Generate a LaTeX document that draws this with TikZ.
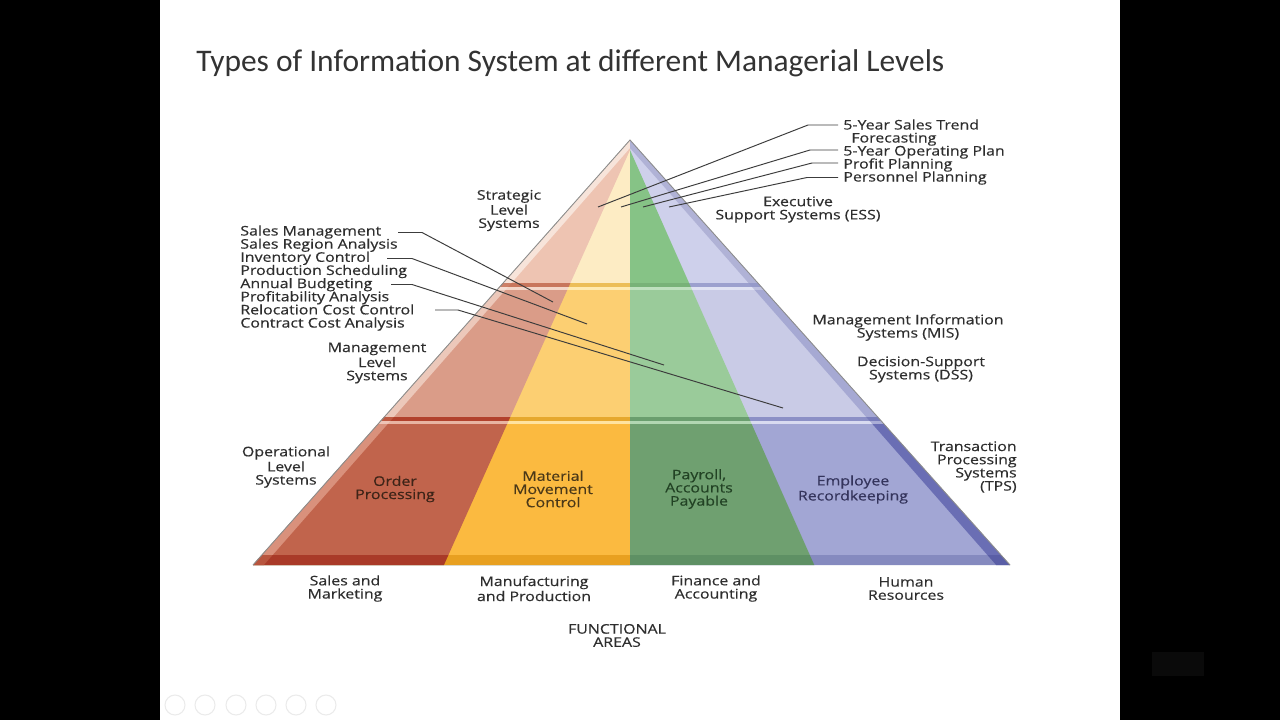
\documentclass[tikz,border=0pt]{standalone}
\usepackage{fontspec}
\newfontfamily\labfont[FakeStretch=1.2,FakeBold=0.4]{Open Sans}
\newfontfamily\titlefont{Carlito}
\definecolor{txt}{HTML}{2E2E2E}
\definecolor{lead}{HTML}{3C3C3C}
\newcommand\tierfill[9]{%
  \begin{scope}
    \clip (150,#1) rectangle (1150,#2);
    \fill[#6] (150,100) rectangle (1150,640);
    \fill[#5] (630,100)--(630,150)--(832,605)--(150,605)--(150,100)--cycle;
    \fill[#4] (150,100) rectangle (630,640);
    \fill[#3] (630,100)--(630,150)--(426,605)--(150,605)--(150,100)--cycle;
    \fill[#7] (630,148)--(198,640)--(150,640)--(150,100)--(630,100)--cycle;
    \fill[#8] (630,148)--(1062,640)--(1150,640)--(1150,100)--(630,100)--cycle;
  \end{scope}}
\begin{document}
\begin{tikzpicture}[x=0.02cm,y=-0.02cm,
  lab/.style={font=\labfont\fontsize{7.55}{7.5}\selectfont, text=txt, inner sep=0pt, align=center},
  inlab/.style={lab},
  leadline/.style={draw=lead, line width=0.55pt}]
\useasboundingbox (0,0) rectangle (1280,720);
\fill[black] (0,0) rectangle (1280,720);
\fill[white] (160,0) rectangle (1120,720);
% slide show controls
\foreach \cx in {175,205,236,266,296,326}
  \draw[black!8, line width=0.6pt] (\cx,705) circle (10);
\fill[black!96] (1152,652) rectangle (1204,676);
% title
\node[font=\titlefont\fontsize{17.9}{20}\selectfont, text=black!80, anchor=west, inner sep=0pt] (title) at (196,63) {Types of Information System at different Managerial Levels};
% pyramid
\coordinate (apex) at (630,140);
\coordinate (bl) at (253,565);
\coordinate (br) at (1010,565);
\begin{scope}
  \clip (apex)--(br)--(bl)--cycle;
  % top tier
  \tierfill{100}{284}{fill={rgb,255:red,238;green,196;blue,178}}{fill={rgb,255:red,253;green,236;blue,196}}{fill={rgb,255:red,134;green,195;blue,134}}{fill={rgb,255:red,206;green,208;blue,235}}{fill={rgb,255:red,247;green,228;blue,218}}{fill={rgb,255:red,176;green,178;blue,214}}{}
  % band 1
  \tierfill{283}{287.5}{fill={rgb,255:red,200;green,118;blue,92}}{fill={rgb,255:red,236;green,190;blue,88}}{fill={rgb,255:red,120;green,178;blue,120}}{fill={rgb,255:red,156;green,160;blue,206}}{fill={rgb,255:red,205;green,128;blue,104}}{fill={rgb,255:red,150;green,154;blue,202}}{}
  \tierfill{287}{291}{fill={rgb,255:red,243;green,214;blue,200}}{fill={rgb,255:red,255;green,234;blue,176}}{fill={rgb,255:red,190;green,224;blue,190}}{fill={rgb,255:red,224;green,226;blue,243}}{fill={rgb,255:red,246;green,222;blue,212}}{fill={rgb,255:red,190;green,192;blue,224}}{}
  % middle tier
  \tierfill{290}{418}{fill={rgb,255:red,218;green,156;blue,136}}{fill={rgb,255:red,252;green,207;blue,114}}{fill={rgb,255:red,154;green,203;blue,154}}{fill={rgb,255:red,201;green,203;blue,230}}{fill={rgb,255:red,236;green,200;blue,186}}{fill={rgb,255:red,166;green,169;blue,211}}{}
  % band 2
  \tierfill{417}{421.5}{fill={rgb,255:red,178;green,65;blue,44}}{fill={rgb,255:red,230;green,168;blue,46}}{fill={rgb,255:red,106;green,158;blue,110}}{fill={rgb,255:red,140;green,144;blue,198}}{fill={rgb,255:red,190;green,90;blue,66}}{fill={rgb,255:red,120;green,124;blue,186}}{}
  \tierfill{421}{425}{fill={rgb,255:red,232;green,180;blue,162}}{fill={rgb,255:red,255;green,227;blue,160}}{fill={rgb,255:red,178;green,214;blue,178}}{fill={rgb,255:red,216;green,218;blue,240}}{fill={rgb,255:red,238;green,196;blue,182}}{fill={rgb,255:red,170;green,173;blue,214}}{}
  % bottom tier
  \tierfill{424}{556}{fill={rgb,255:red,193;green,100;blue,76}}{fill={rgb,255:red,251;green,186;blue,64}}{fill={rgb,255:red,111;green,160;blue,112}}{fill={rgb,255:red,162;green,166;blue,212}}{fill={rgb,255:red,217;green,145;blue,124}}{fill={rgb,255:red,106;green,110;blue,180}}{}
  % base strip
  \tierfill{555}{570}{fill={rgb,255:red,169;green,58;blue,40}}{fill={rgb,255:red,232;green,160;blue,32}}{fill={rgb,255:red,94;green,144;blue,100}}{fill={rgb,255:red,133;green,138;blue,191}}{fill={rgb,255:red,184;green,85;blue,62}}{fill={rgb,255:red,90;green,94;blue,166}}{}
\end{scope}
\draw[black!45, line width=0.5pt] (bl)--(apex)--(br);
% level labels
\node[lab] (strat) at (509,210.5) {Strategic\\Level\\Systems};
\node[lab] (mgmt) at (377,363) {Management\\Level\\Systems};
\node[lab] (oper) at (286,467) {Operational\\Level\\Systems};
\node[lab] (ess) at (798,209.5) {Executive\\Support Systems (ESS)};
\node[lab] (mis) at (908,327.5) {Management Information\\Systems (MIS)};
\node[lab] (dss) at (921,369.5) {Decision-Support\\Systems (DSS)};
\node[lab, align=right, anchor=east] (tps) at (1017,467) {Transaction\\Processing\\Systems\\(TPS)};
% in-pyramid labels
\node[inlab, text={rgb,255:red,62;green,36;blue,24}] (order) at (395,489) {Order\\Processing};
\node[inlab, text={rgb,255:red,74;green,56;blue,24}] (material) at (553,489) {Material\\Movement\\Control};
\node[inlab, text={rgb,255:red,34;green,66;blue,36}] (payroll) at (699,489) {Payroll,\\Accounts\\Payable};
\node[inlab, text={rgb,255:red,52;green,52;blue,92}] (employee) at (853,489.5) {Employee\\Recordkeeping};
% functional areas
\node[lab] (sales) at (345,588.5) {Sales and\\Marketing};
\node[lab] (manu) at (534,588.5) {Manufacturing\\and Production};
\node[lab] (fin) at (716,588.5) {Finance and\\Accounting};
\node[lab] (hr) at (906,588.5) {Human\\Resources};
\node[lab] (func) at (617,635.5) {FUNCTIONAL\\AREAS};
% right list
\node[lab, anchor=base west] (r1) at (843,129.5) {5-Year Sales Trend};
\node[lab, anchor=base west] (r1b) at (851,142.5) {Forecasting};
\node[lab, anchor=base west] (r2) at (843,155.5) {5-Year Operating Plan};
\node[lab, anchor=base west] (r3) at (843,168.5) {Profit Planning};
\node[lab, anchor=base west] (r4) at (843,181.5) {Personnel Planning};
% left list
\foreach \t [count=\i] in {Sales Management,Sales Region Analysis,Inventory Control,Production Scheduling,Annual Budgeting,Profitability Analysis,Relocation Cost Control,Contract Cost Analysis}
  \node[lab, anchor=base west] (l\i) at (240,{235.5+(\i-1)*13.15}) {\t};
% leader coordinates
\coordinate (ra1) at (838,125); \coordinate (rb1) at (808,125); \coordinate (rc1) at (598,207);
\coordinate (ra2) at (838,150); \coordinate (rb2) at (810,150); \coordinate (rc2) at (621,207);
\coordinate (ra3) at (838,163); \coordinate (rb3) at (812,163); \coordinate (rc3) at (643,207);
\coordinate (ra4) at (838,177.5); \coordinate (rb4) at (807,177.5); \coordinate (rc4) at (669,207);
\coordinate (la1) at (398,232.5); \coordinate (lb1) at (422,232.5); \coordinate (lc1) at (553,302);
\coordinate (la3) at (387,258.5); \coordinate (lb3) at (412,258.5); \coordinate (lc3) at (587,324);
\coordinate (la5) at (391,284.5); \coordinate (lb5) at (412,284.5); \coordinate (lc5) at (664,365);
\coordinate (la7) at (435,310); \coordinate (lb7) at (458,310); \coordinate (lc7) at (783,408);
\foreach \k in {1,2,3,4} \draw[leadline] (ra\k)--(rb\k)--(rc\k);
\foreach \k in {1,3,5,7} \draw[leadline] (la\k)--(lb\k)--(lc\k);
\end{tikzpicture}
\end{document}
